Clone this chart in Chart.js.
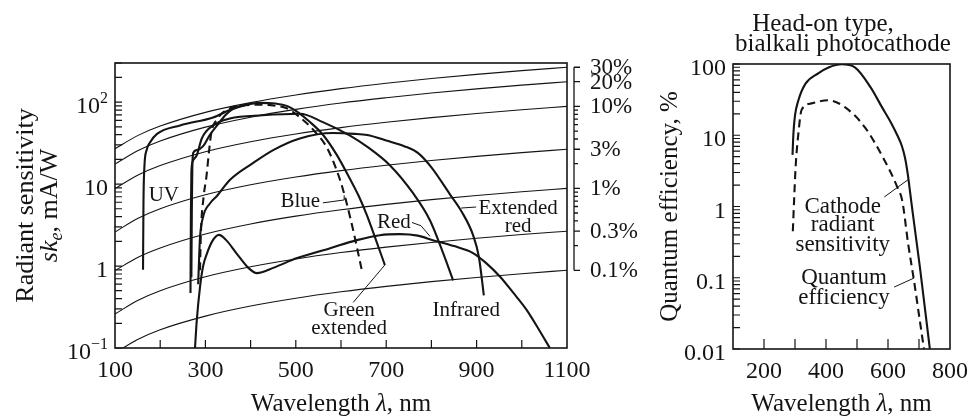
<!DOCTYPE html>
<html lang="en">
<head>
<meta charset="utf-8">
<title>Photocathode spectral response</title>
<script src="https://cdn.jsdelivr.net/npm/chart.js@4.4.1/dist/chart.umd.min.js"></script>
<style>
  body { margin: 0; background: #fff; }
  #wrap { position: relative; width: 969px; height: 417px; overflow: hidden; }
  canvas { position: absolute; top: 0; }
  #sensChart { left: 0; }
  #qeChart { left: 645px; }
</style>
</head>
<body>
<div id="wrap">
  <canvas id="sensChart" width="660" height="417"></canvas>
  <canvas id="qeChart" width="324" height="417"></canvas>
</div>
<script>
const INK = "#141414";
const SERIF = '"Liberation Serif", "Times New Roman", serif';

// ---------- left panel: radiant sensitivity (mA/W) against wavelength (nm) ----------

// constant quantum efficiency guide lines
const guideWl = [100, 150, 200, 300, 400, 500, 600, 700, 800, 900, 1000, 1100];
const guide30 = [27, 39, 51, 75, 98.5, 122, 146, 170, 194, 218, 242, 266];
const guide20 = [17.5, 25.5, 33.5, 49.5, 65.5, 81.5, 97.5, 113, 129, 145, 161, 177];
const guide10 = [8.8, 12.8, 16.8, 24.8, 32.8, 40.8, 48.8, 56.7, 64.6, 72.6, 80.6, 88.7];
const guide3 = [2.6, 3.8, 5.0, 7.4, 9.8, 12.2, 14.6, 17, 19.4, 21.8, 24.2, 26.6];
const guide1 = [0.88, 1.27, 1.66, 2.46, 3.26, 4.06, 4.86, 5.66, 6.46, 7.26, 8.06, 8.87];
const guide03 = [0.26, 0.38, 0.5, 0.74, 0.98, 1.22, 1.46, 1.7, 1.94, 2.18, 2.42, 2.66];
const guide01 = [0.087, 0.127, 0.167, 0.245, 0.325, 0.405, 0.485, 0.565, 0.645, 0.725, 0.806, 0.887];

// QE scale on the right edge (percent), and mA/W per percent at 1100 nm
const qeMajor = [30, 20, 10, 3, 1, 0.3, 0.1];
const qeMajorText = ["30%", "20%", "10%", "3%", "1%", "0.3%", "0.1%"];
const qeMinor = [9, 8, 7, 6, 5, 4, 2, 0.9, 0.8, 0.7, 0.6, 0.5, 0.4, 0.2];
const mAperPercent = 8.87;

// photocathode responses
const uvWl = [162, 163, 165, 170, 177, 193, 244, 317, 354, 390];
const uvVal = [0.9, 6, 16, 26, 32, 41, 52, 65, 80, 93];

const greenWl = [269, 270, 271, 273, 281, 295, 310, 326, 345, 361, 390, 421, 455, 480, 505, 530, 560, 590, 620, 640, 657, 677, 697];
const greenVal = [0.73, 5, 15, 24, 26, 29, 40, 52, 70, 83, 93, 98, 96, 90, 75, 58, 40, 23, 11.5, 7, 4.2, 2.1, 1.03];

const redWl = [267, 268, 269, 272, 281, 292, 317, 354, 427, 509, 560, 620, 660, 708, 759, 797, 826, 848];
const redVal = [0.47, 5, 14, 19, 22.6, 36, 52, 63, 69, 72, 57, 39, 28, 17, 7.8, 3.6, 1.44, 0.67];

const blueWl = [288, 290, 296, 302, 308, 313, 326, 354, 380, 420, 450, 480, 505, 540, 570, 598, 612, 630, 646];
const blueVal = [0.89, 2.5, 7, 12, 25, 42, 62, 84, 90, 93, 91, 84, 68, 45, 27, 11.2, 6, 2.3, 0.89];

const extRedWl = [284, 286, 288, 295, 310, 326, 354, 405, 450, 509, 582, 630, 658, 700, 740, 770, 800, 841, 867, 892, 905, 916];
const extRedVal = [0.6, 1.2, 2.2, 4.0, 5.8, 7.2, 11.2, 18, 26, 36, 42, 41, 39.6, 34, 29, 24, 16, 7.5, 4.6, 2.4, 1.3, 0.44];

const irWl = [277, 281, 288, 295, 304, 315, 330, 345, 370, 395, 414, 450, 503, 576, 635, 686, 730, 770, 803, 850, 892, 920, 952, 980, 1011, 1040, 1062];
const irVal = [0.1, 0.22, 0.55, 1.0, 1.45, 2.0, 2.4, 2.1, 1.4, 0.95, 0.82, 0.95, 1.25, 1.65, 2.07, 2.38, 2.45, 2.35, 2.07, 1.75, 1.44, 1.1, 0.74, 0.48, 0.29, 0.16, 0.1];

const sensXLabels = [100, 300, 500, 700, 900, 1100];
const sensXMarks = [200, 300, 400, 500, 600, 700, 800, 900, 1000];
const sensYValues = [0.1, 1, 10, 100];
const sensYText = ["10", "1", "10", "10"];
const sensYExp = ["\u22121", "", "", "2"];

// ---------- right panel: head-on bialkali tube ----------
const radWl = [292, 295, 300, 311, 334, 375, 410, 450, 493, 544, 580, 608, 630, 645, 655, 664, 672, 680, 703, 735];
const radVal = [5.3, 10.7, 19, 31, 53, 74, 90, 99, 90, 47, 25, 15.5, 10, 7, 4.8, 2.8, 1.5, 0.8, 0.14, 0.01];

const qeWl = [293, 297, 302, 311, 321, 353, 407, 461, 525, 588, 630, 646, 665, 684, 700, 716];
const qeVal = [0.45, 1.2, 3.6, 10.7, 22.5, 28, 31, 24.8, 13, 4.5, 1.87, 1.2, 0.3, 0.09, 0.03, 0.01];

const qeXLabels = [200, 400, 600, 800];
const qeXMarks = [200, 300, 400, 500, 600, 700];
const qeYValues = [0.01, 0.1, 1, 10, 100];
const qeYText = ["0.01", "0.1", "1", "10", "100"];

function font(size, style) {
  return (style ? style + " " : "") + size + "px " + SERIF;
}

function pts(wl, val) {
  return wl.map((w, i) => ({ x: w, y: val[i] }));
}

function curve(wl, val, dashed) {
  return {
    data: pts(wl, val),
    borderColor: INK,
    borderWidth: 2.1,
    borderDash: dashed ? [8, 5] : [],
    pointRadius: 0,
    fill: false,
    cubicInterpolationMode: "monotone"
  };
}

function guide(val) {
  return {
    data: pts(guideWl, val),
    borderColor: INK,
    borderWidth: 1.1,
    pointRadius: 0,
    fill: false,
    cubicInterpolationMode: "monotone"
  };
}

// 1..9 steps of every decade inside [min, max]
function logMarks(min, max) {
  const out = [];
  for (let e = Math.floor(Math.log10(min)); Math.pow(10, e) <= max; e++) {
    for (let m = 1; m <= 9; m++) {
      const v = m * Math.pow(10, e);
      if (v >= min * 0.999 && v <= max * 1.001) out.push(v);
    }
  }
  return out;
}

// text made of pieces with their own font / vertical shift
function drawRuns(ctx, runs, x, y, align) {
  let total = 0;
  runs.forEach(r => { ctx.font = r.f; r.w = ctx.measureText(r.t).width; total += r.w; });
  let cx = align === "center" ? x - total / 2 : align === "right" ? x - total : x;
  ctx.textAlign = "left";
  runs.forEach(r => { ctx.font = r.f; ctx.fillText(r.t, cx, y + (r.dy || 0)); cx += r.w; });
}

// frame, inward ticks, tick labels, curve names and axis titles
const axesDeco = {
  id: "axesDeco",
  afterDatasetsDraw(chart, args, o) {
    const ctx = chart.ctx, a = chart.chartArea;
    const xs = chart.scales.x, ys = chart.scales.y;
    const px = v => xs.getPixelForValue(v);
    const py = v => ys.getPixelForValue(v);
    ctx.save();
    ctx.strokeStyle = INK;
    ctx.fillStyle = INK;

    ctx.lineWidth = 1.6;
    ctx.strokeRect(a.left, a.top, a.right - a.left, a.bottom - a.top);
    ctx.lineWidth = 1.2;
    ctx.beginPath();
    o.xMarks.forEach(v => { ctx.moveTo(px(v), a.bottom); ctx.lineTo(px(v), a.bottom - o.xMarkLen); });
    logMarks(ys.min, ys.max).forEach(v => { ctx.moveTo(a.left, py(v)); ctx.lineTo(a.left + 7, py(v)); });
    ctx.stroke();

    ctx.textBaseline = "alphabetic";
    ctx.textAlign = "center";
    ctx.font = font(24);
    o.xLabels.forEach(v => ctx.fillText(String(v), px(v), a.bottom + 29));
    o.yValues.forEach((v, i) => {
      const runs = [{ t: o.yText[i], f: font(24) }];
      if (o.yExp && o.yExp[i]) runs.push({ t: o.yExp[i], f: font(16), dy: -10 });
      drawRuns(ctx, runs, a.left - 7, py(v) + 11, "right");
    });

    ctx.lineWidth = 1;
    o.leaders.forEach(path => {
      ctx.beginPath();
      path.forEach((p, i) => i ? ctx.lineTo(px(p[0]), py(p[1])) : ctx.moveTo(px(p[0]), py(p[1])));
      ctx.stroke();
    });
    ctx.font = font(o.noteSize);
    ctx.textAlign = "center";
    ctx.textBaseline = "middle";
    o.notes.forEach(n => ctx.fillText(n.text, px(n.wl), py(n.val)));

    ctx.textBaseline = "alphabetic";
    o.titles.forEach(t => {
      ctx.save();
      const tx = t.x === "mid" ? (a.left + a.right) / 2 : t.x;
      const ty = t.y === "mid" ? (a.top + a.bottom) / 2 : t.y;
      ctx.translate(tx, ty);
      if (t.rot) ctx.rotate(-Math.PI / 2);
      drawRuns(ctx, t.runs, 0, 0, "center");
      ctx.restore();
    });
    ctx.restore();
  }
};

// quantum efficiency scale standing beside the left panel
const qeSide = {
  id: "qeSide",
  afterDatasetsDraw(chart) {
    const ctx = chart.ctx, a = chart.chartArea, qs = chart.scales.q;
    const lineX = a.right + 7;
    ctx.save();
    ctx.strokeStyle = INK;
    ctx.fillStyle = INK;
    ctx.lineWidth = 1.3;
    ctx.beginPath();
    ctx.moveTo(lineX, qs.getPixelForValue(Math.max(...qeMajor)));
    ctx.lineTo(lineX, qs.getPixelForValue(Math.min(...qeMajor)));
    qeMajor.forEach(v => { const y = qs.getPixelForValue(v); ctx.moveTo(lineX, y); ctx.lineTo(lineX + 6, y); });
    qeMinor.forEach(v => { const y = qs.getPixelForValue(v); ctx.moveTo(lineX, y); ctx.lineTo(lineX + 4, y); });
    ctx.stroke();
    ctx.font = font(23);
    ctx.textAlign = "left";
    ctx.textBaseline = "alphabetic";
    qeMajor.forEach((v, i) => ctx.fillText(qeMajorText[i], lineX + 16, qs.getPixelForValue(v) + 7));
    ctx.restore();
  }
};

new Chart(document.getElementById("sensChart"), {
  type: "line",
  data: {
    datasets: [
      curve(uvWl, uvVal),
      curve(greenWl, greenVal),
      curve(redWl, redVal),
      curve(blueWl, blueVal, true),
      curve(extRedWl, extRedVal),
      curve(irWl, irVal),
      guide(guide30), guide(guide20), guide(guide10), guide(guide3),
      guide(guide1), guide(guide03), guide(guide01)
    ]
  },
  options: {
    responsive: false,
    animation: false,
    events: [],
    layout: { padding: { left: 115, right: 93, top: 63, bottom: 69 } },
    scales: {
      x: { type: "linear", min: 100, max: 1100, display: false },
      y: { type: "logarithmic", min: 0.1, max: 300, display: false },
      q: { type: "logarithmic", position: "right", min: 0.1 / mAperPercent, max: 300 / mAperPercent, display: false }
    },
    plugins: {
      legend: { display: false },
      tooltip: { enabled: false },
      axesDeco: {
        xMarks: sensXMarks, xMarkLen: 8, xLabels: sensXLabels,
        yValues: sensYValues, yText: sensYText, yExp: sensYExp,
        noteSize: 21,
        notes: [
          { text: "UV", wl: 208, val: 7.3 },
          { text: "Blue", wl: 510, val: 6.2 },
          { text: "Red", wl: 717, val: 3.4 },
          { text: "Extended", wl: 992, val: 5.1 },
          { text: "red", wl: 992, val: 3.0 },
          { text: "Green", wl: 618, val: 0.29 },
          { text: "extended", wl: 618, val: 0.175 },
          { text: "Infrared", wl: 877, val: 0.29 }
        ],
        leaders: [
          [[560, 5.9], [607, 6.4], [607, 7.3]],
          [[757, 3.4], [777, 3.1], [797, 2.3]],
          [[866, 5.1], [899, 5.25]],
          [[627, 0.36], [697, 1.03]]
        ],
        titles: [
          { x: "mid", y: 411, runs: [{ t: "Wavelength ", f: font(25) }, { t: "\u03bb", f: font(25, "italic") }, { t: ", nm", f: font(25) }] },
          { x: 33, y: "mid", rot: true, runs: [{ t: "Radiant sensitivity", f: font(26) }] },
          { x: 57, y: "mid", rot: true, runs: [
            { t: "sk", f: font(26, "italic") },
            { t: "e", f: font(18, "italic"), dy: 5 },
            { t: ", mA/W", f: font(26) }
          ] }
        ]
      }
    }
  },
  plugins: [axesDeco, qeSide]
});

new Chart(document.getElementById("qeChart"), {
  type: "line",
  data: {
    datasets: [
      curve(radWl, radVal),
      curve(qeWl, qeVal, true)
    ]
  },
  options: {
    responsive: false,
    animation: false,
    events: [],
    layout: { padding: { left: 88, right: 19, top: 64, bottom: 68 } },
    scales: {
      x: { type: "linear", min: 100, max: 800, display: false },
      y: { type: "logarithmic", min: 0.01, max: 100, display: false }
    },
    plugins: {
      legend: { display: false },
      tooltip: { enabled: false },
      axesDeco: {
        xMarks: qeXMarks, xMarkLen: 10, xLabels: qeXLabels,
        yValues: qeYValues, yText: qeYText,
        noteSize: 23,
        notes: [
          { text: "Cathode", wl: 454, val: 0.98 },
          { text: "radiant", wl: 454, val: 0.55 },
          { text: "sensitivity", wl: 454, val: 0.29 },
          { text: "Quantum", wl: 458, val: 0.099 },
          { text: "efficiency", wl: 458, val: 0.052 }
        ],
        leaders: [
          [[588, 1.36], [666, 2.4]],
          [[620, 0.074], [684, 0.099]]
        ],
        titles: [
          { x: "mid", y: 411, runs: [{ t: "Wavelength ", f: font(25) }, { t: "\u03bb", f: font(25, "italic") }, { t: ", nm", f: font(25) }] },
          { x: 32, y: "mid", rot: true, runs: [{ t: "Quantum efficiency, %", f: font(25) }] },
          { x: 178, y: 31, runs: [{ t: "Head-on type,", f: font(25) }] },
          { x: 198, y: 51, runs: [{ t: "bialkali photocathode", f: font(25) }] }
        ]
      }
    }
  },
  plugins: [axesDeco]
});
</script>
</body>
</html>
